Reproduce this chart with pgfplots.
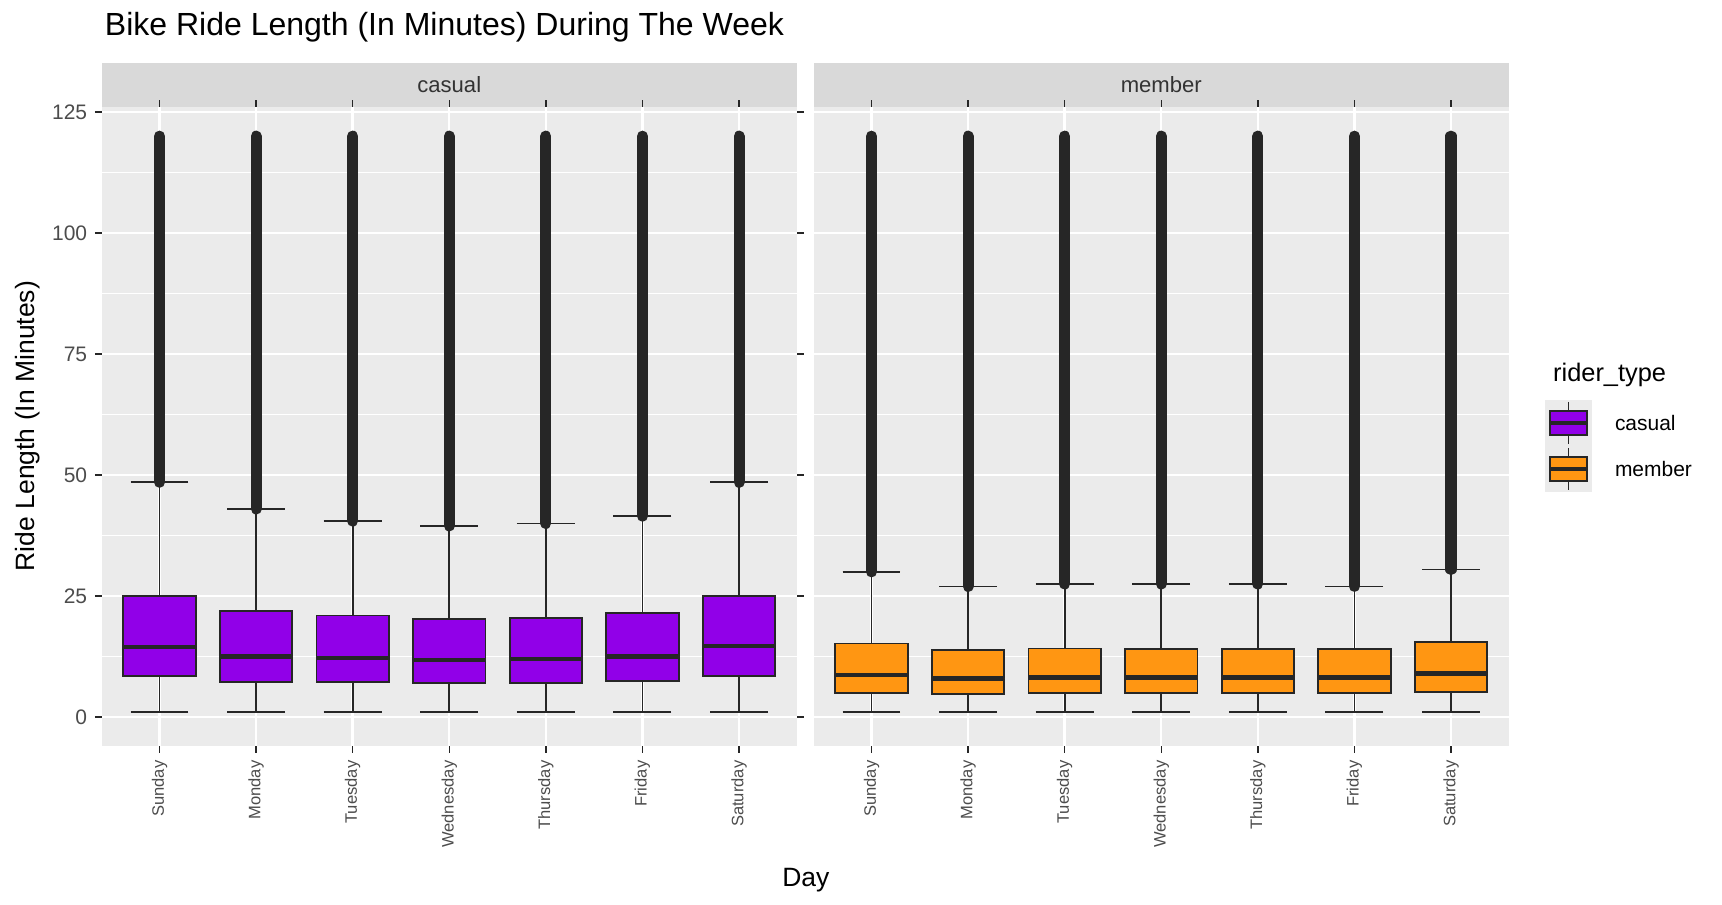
\documentclass[border=0pt]{standalone}
\usepackage{pgfplots}
\pgfplotsset{compat=1.18}
\usepgfplotslibrary{statistics}
\usepackage{fontspec}
\setmainfont{Liberation Sans}
\definecolor{panelbg}{HTML}{EBEBEB}
\definecolor{stripbg}{HTML}{D9D9D9}
\definecolor{dk}{HTML}{262626}
\definecolor{cas}{HTML}{9100E8}
\definecolor{mem}{HTML}{FF9612}
\newcommand{\bx}[7]{%
\addplot[dk, line width=5pt, line cap=round] coordinates {(#1,#6) (#1,120)};
\addplot[boxplot prepared={lower whisker=1, lower quartile=#3, median=#4, upper quartile=#5, upper whisker=#6, draw position=#1, box extend=0.75, draw direction=y}, fill=#7, draw=dk, line width=0.8pt, boxplot/every median/.style={line width=2pt}] coordinates {};}
\pgfplotsset{panel/.style={
 scale only axis, width=315pt, height=289.5pt, anchor=south west,
 xmin=0.4, xmax=7.6, ymin=-6, ymax=126,
 axis background/.style={fill=panelbg}, axis line style={draw=none},
 xtick={1,...,7}, xticklabels={Sunday,Monday,Tuesday,Wednesday,Thursday,Friday,Saturday},
 xticklabel style={rotate=90, anchor=east, font=\fontsize{7.5}{8}\selectfont, text=black!70},
 ytick={0,25,50,75,100,125}, minor ytick={12.5,37.5,62.5,87.5,112.5},
 yticklabel style={font=\fontsize{9.5}{10}\selectfont, text=black!70},
 /pgf/number format/assume math mode=true,
 grid=both, major grid style={white, line width=1.1pt}, minor grid style={white, line width=0.55pt},
 tick align=outside, major tick length=3pt, minor tick length=0pt,
 tick style={dk, line width=0.6pt}, clip=false}}
\begin{document}
\begin{tikzpicture}
\path (0,0) rectangle (780pt,-409.5pt);
\node[anchor=west, font=\fontsize{14.5}{16}\selectfont] at (44pt,-12.5pt) {Bike Ride Length (In Minutes) During The Week};
\fill[stripbg] (46pt,-48.5pt) rectangle (361pt,-28.5pt);
\fill[stripbg] (368.5pt,-48.5pt) rectangle (683.5pt,-28.5pt);
\node[font=\fontsize{10}{11}\selectfont, text=black!80] at (203.5pt,-38.5pt) {casual};
\node[font=\fontsize{10}{11}\selectfont, text=black!80] at (526pt,-38.5pt) {member};
\begin{axis}[panel, at={(46pt,-338pt)}]
\bx{1}{1}{8.5}{14.5}{25}{48.5}{cas}
\bx{2}{1}{7.3}{12.5}{22}{43}{cas}
\bx{3}{1}{7.2}{12.2}{21}{40.5}{cas}
\bx{4}{1}{7}{11.8}{20.3}{39.5}{cas}
\bx{5}{1}{7.1}{12}{20.5}{40}{cas}
\bx{6}{1}{7.4}{12.5}{21.5}{41.5}{cas}
\bx{7}{1}{8.5}{14.7}{25}{48.5}{cas}
\end{axis}
\begin{axis}[panel, at={(368.5pt,-338pt)}, yticklabels={}, ytick style={draw=none}]
\bx{1}{1}{5}{8.7}{15.2}{30}{mem}
\bx{2}{1}{4.8}{8}{13.8}{27}{mem}
\bx{3}{1}{5}{8.2}{14.2}{27.5}{mem}
\bx{4}{1}{5}{8.2}{14}{27.5}{mem}
\bx{5}{1}{5}{8.2}{14}{27.5}{mem}
\bx{6}{1}{5}{8.2}{14}{27}{mem}
\bx{7}{1}{5.2}{9}{15.5}{30.5}{mem}
\end{axis}
\node[rotate=90, font=\fontsize{12}{13}\selectfont] at (12.5pt,-193pt) {Ride Length (In Minutes)};
\node[font=\fontsize{12}{13}\selectfont] at (365pt,-398.5pt) {Day};
\node[anchor=west, font=\fontsize{11.5}{12}\selectfont] at (700pt,-170pt) {rider\_type};
\foreach \yy/\cc/\ll in {-181/cas/casual, -202/mem/member}{
 \fill[panelbg] (700pt,\yy pt) rectangle (721pt,\yy pt-21pt);
 \draw[dk, line width=0.8pt] (710.5pt,\yy pt-1pt) -- (710.5pt,\yy pt-20pt);
 \filldraw[fill=\cc, draw=dk, line width=0.8pt] (702pt,\yy pt-5pt) rectangle (719pt,\yy pt-16pt);
 \draw[dk, line width=1.6pt] (702pt,\yy pt-10.5pt) -- (719pt,\yy pt-10.5pt);
 \node[anchor=west, font=\fontsize{9.5}{10}\selectfont] at (728pt,\yy pt-10.5pt) {\ll};
}
\end{tikzpicture}
\end{document}
